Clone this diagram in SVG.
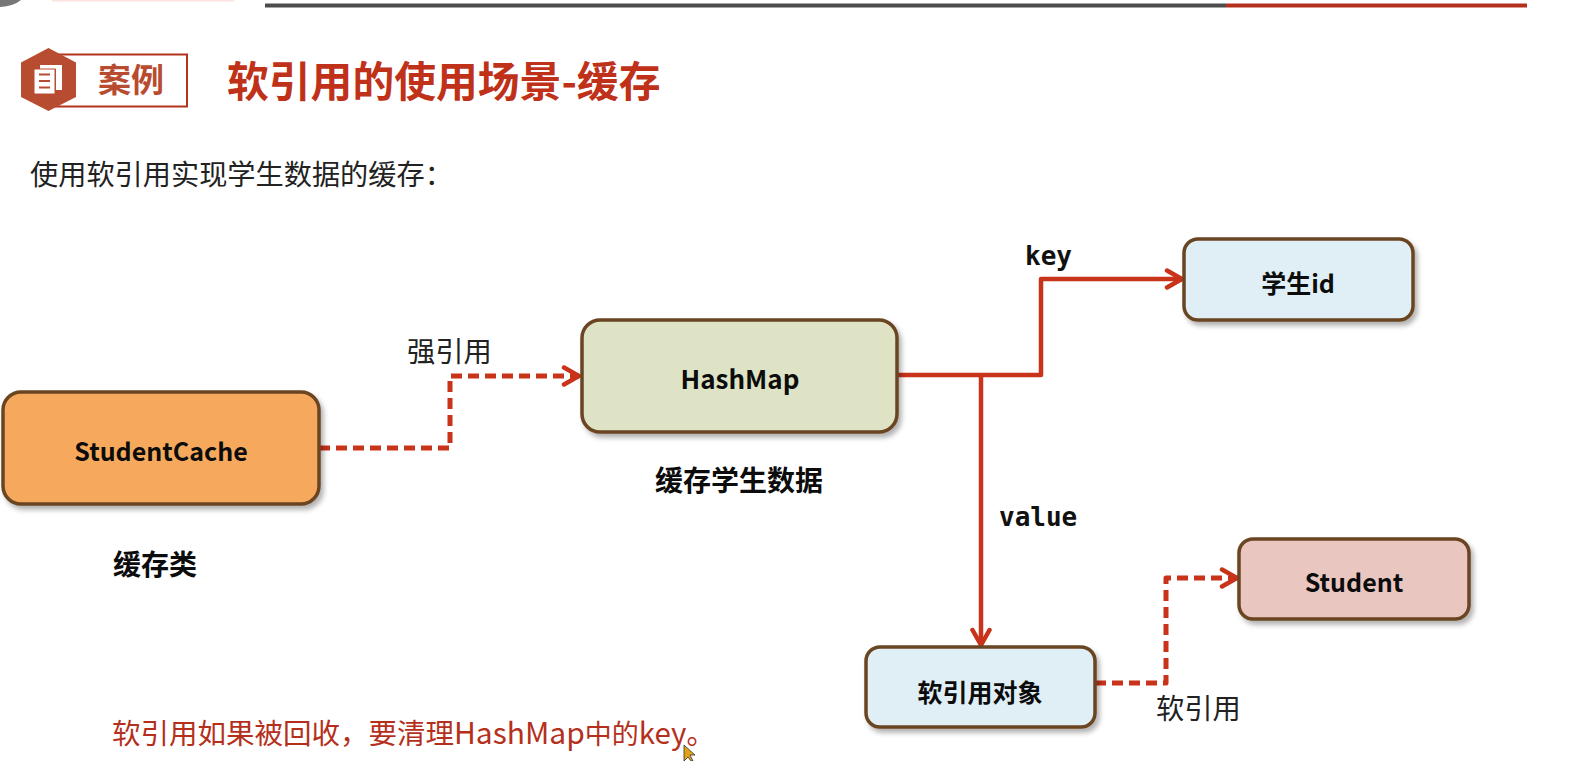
<svg xmlns="http://www.w3.org/2000/svg" width="1577" height="761" viewBox="0 0 1577 761">
<defs>
<filter id="sh" x="-10%" y="-10%" width="125%" height="130%"><feDropShadow dx="3" dy="4" stdDeviation="2.5" flood-color="#000" flood-opacity="0.3"/></filter>
<marker id="arr" markerUnits="userSpaceOnUse" markerWidth="24" markerHeight="24" refX="20" refY="12" orient="auto"><path d="M5 3.500L20 12L5 20.500" fill="none" stroke="#c8331a" stroke-width="4.500" stroke-linecap="round"/></marker>
</defs>
<style>
text{font-family:"Noto Sans CJK SC","Noto Sans",sans-serif}
.n rect{stroke:#6b4423;stroke-width:3.500;filter:url(#sh)}
.n text,.b{font-size:25px;font-weight:700;fill:#0c0c0c;text-anchor:middle}
.c path{fill:none;stroke:#c8331a;stroke-width:4.500;stroke-linejoin:round}
.c path.d{stroke-dasharray:11 6;stroke-width:5}
.l{font-size:28.300px;fill:#222}
.m{font-family:"DejaVu Sans Mono","Liberation Mono",monospace;font-size:26px;font-weight:700;fill:#111}
</style>
<rect width="1577" height="761" fill="#fff"/>
<g id="header">
<path d="M0 0H21Q14 6 0 7Z" fill="#777"/>
<rect x="52" y="0" width="182" height="1.500" fill="#fbe3df"/>
<rect x="265" y="3.500" width="961" height="4" fill="#4c4c4c"/>
<rect x="1226" y="3.500" width="301" height="4" fill="#b5301c"/>
<rect x="56" y="54.500" width="131" height="52" fill="#fff" stroke="#b4321d" stroke-width="2"/>
<path d="M48.500 48L76 62.500V97L48.500 111L21 97V62.500Z" fill="#b84c31"/>
<path d="M40 65H62V90H56V69H40Z" fill="#fff"/>
<rect x="34" y="69" width="21" height="25" fill="#fff" stroke="#b84c31" stroke-width="1"/>
<path d="M39 74.500h11M39 81h11M39 87.500h11" stroke="#b84c31" stroke-width="2"/>
<text x="98" y="92" font-size="33" font-weight="700" fill="#b84c31">案例</text>
<text x="227" y="97" font-size="41.800" font-weight="700" fill="#c0311a">软引用的使用场景-缓存</text>
<text x="30" y="185" font-size="28.200" fill="#222">使用软引用实现学生数据的缓存：</text>
</g>
<g id="connectors" class="c">
<path class="d" d="M319 448H450V376H579" marker-end="url(#arr)"/>
<path d="M897 375H1041V279H1182" marker-end="url(#arr)"/>
<path d="M981 375V645" marker-end="url(#arr)"/>
<path class="d" d="M1095 683H1166V578H1237" marker-end="url(#arr)"/>
</g>
<g id="student-cache" class="n"><rect x="3" y="392" width="316" height="112" rx="18" fill="#f6a95b"/><text x="161" y="461">StudentCache</text></g>
<g id="hash-map" class="n"><rect x="582" y="320" width="315" height="112" rx="18" fill="#dfe3c5"/><text x="740" y="389" style="font-size:26px">HashMap</text></g>
<g id="student-id" class="n"><rect x="1184" y="239" width="229" height="81" rx="14" fill="#e0eef6"/><text x="1298" y="293">学生id</text></g>
<g id="student" class="n"><rect x="1239" y="539" width="230" height="80" rx="14" fill="#e9c6c0"/><text x="1354" y="592">Student</text></g>
<g id="soft-ref" class="n"><rect x="866" y="647" width="229" height="80" rx="14" fill="#e0eef6"/><text x="980" y="702">软引用对象</text></g>
<g id="labels">
<text class="l" x="407" y="362">强引用</text>
<text class="l" x="1156" y="719">软引用</text>
<text class="m" x="1025" y="265">key</text>
<text class="m" x="999" y="526">value</text>
<text class="b" style="font-size:28px" x="155" y="575">缓存类</text>
<text class="b" style="font-size:28px" x="739" y="491">缓存学生数据</text>
<text x="112" y="744" font-size="28.500" fill="#b5301c">软引用如果被回收，要清理<tspan font-size="30">HashMap</tspan><tspan font-size="27">中的</tspan><tspan font-size="29.500">key</tspan>。</text>
</g>
<path id="cursor" d="M684 745V761L688 757L691 761H693L690 755H695Z" fill="#e0a21a" stroke="#333" stroke-width="0.800"/>
</svg>
